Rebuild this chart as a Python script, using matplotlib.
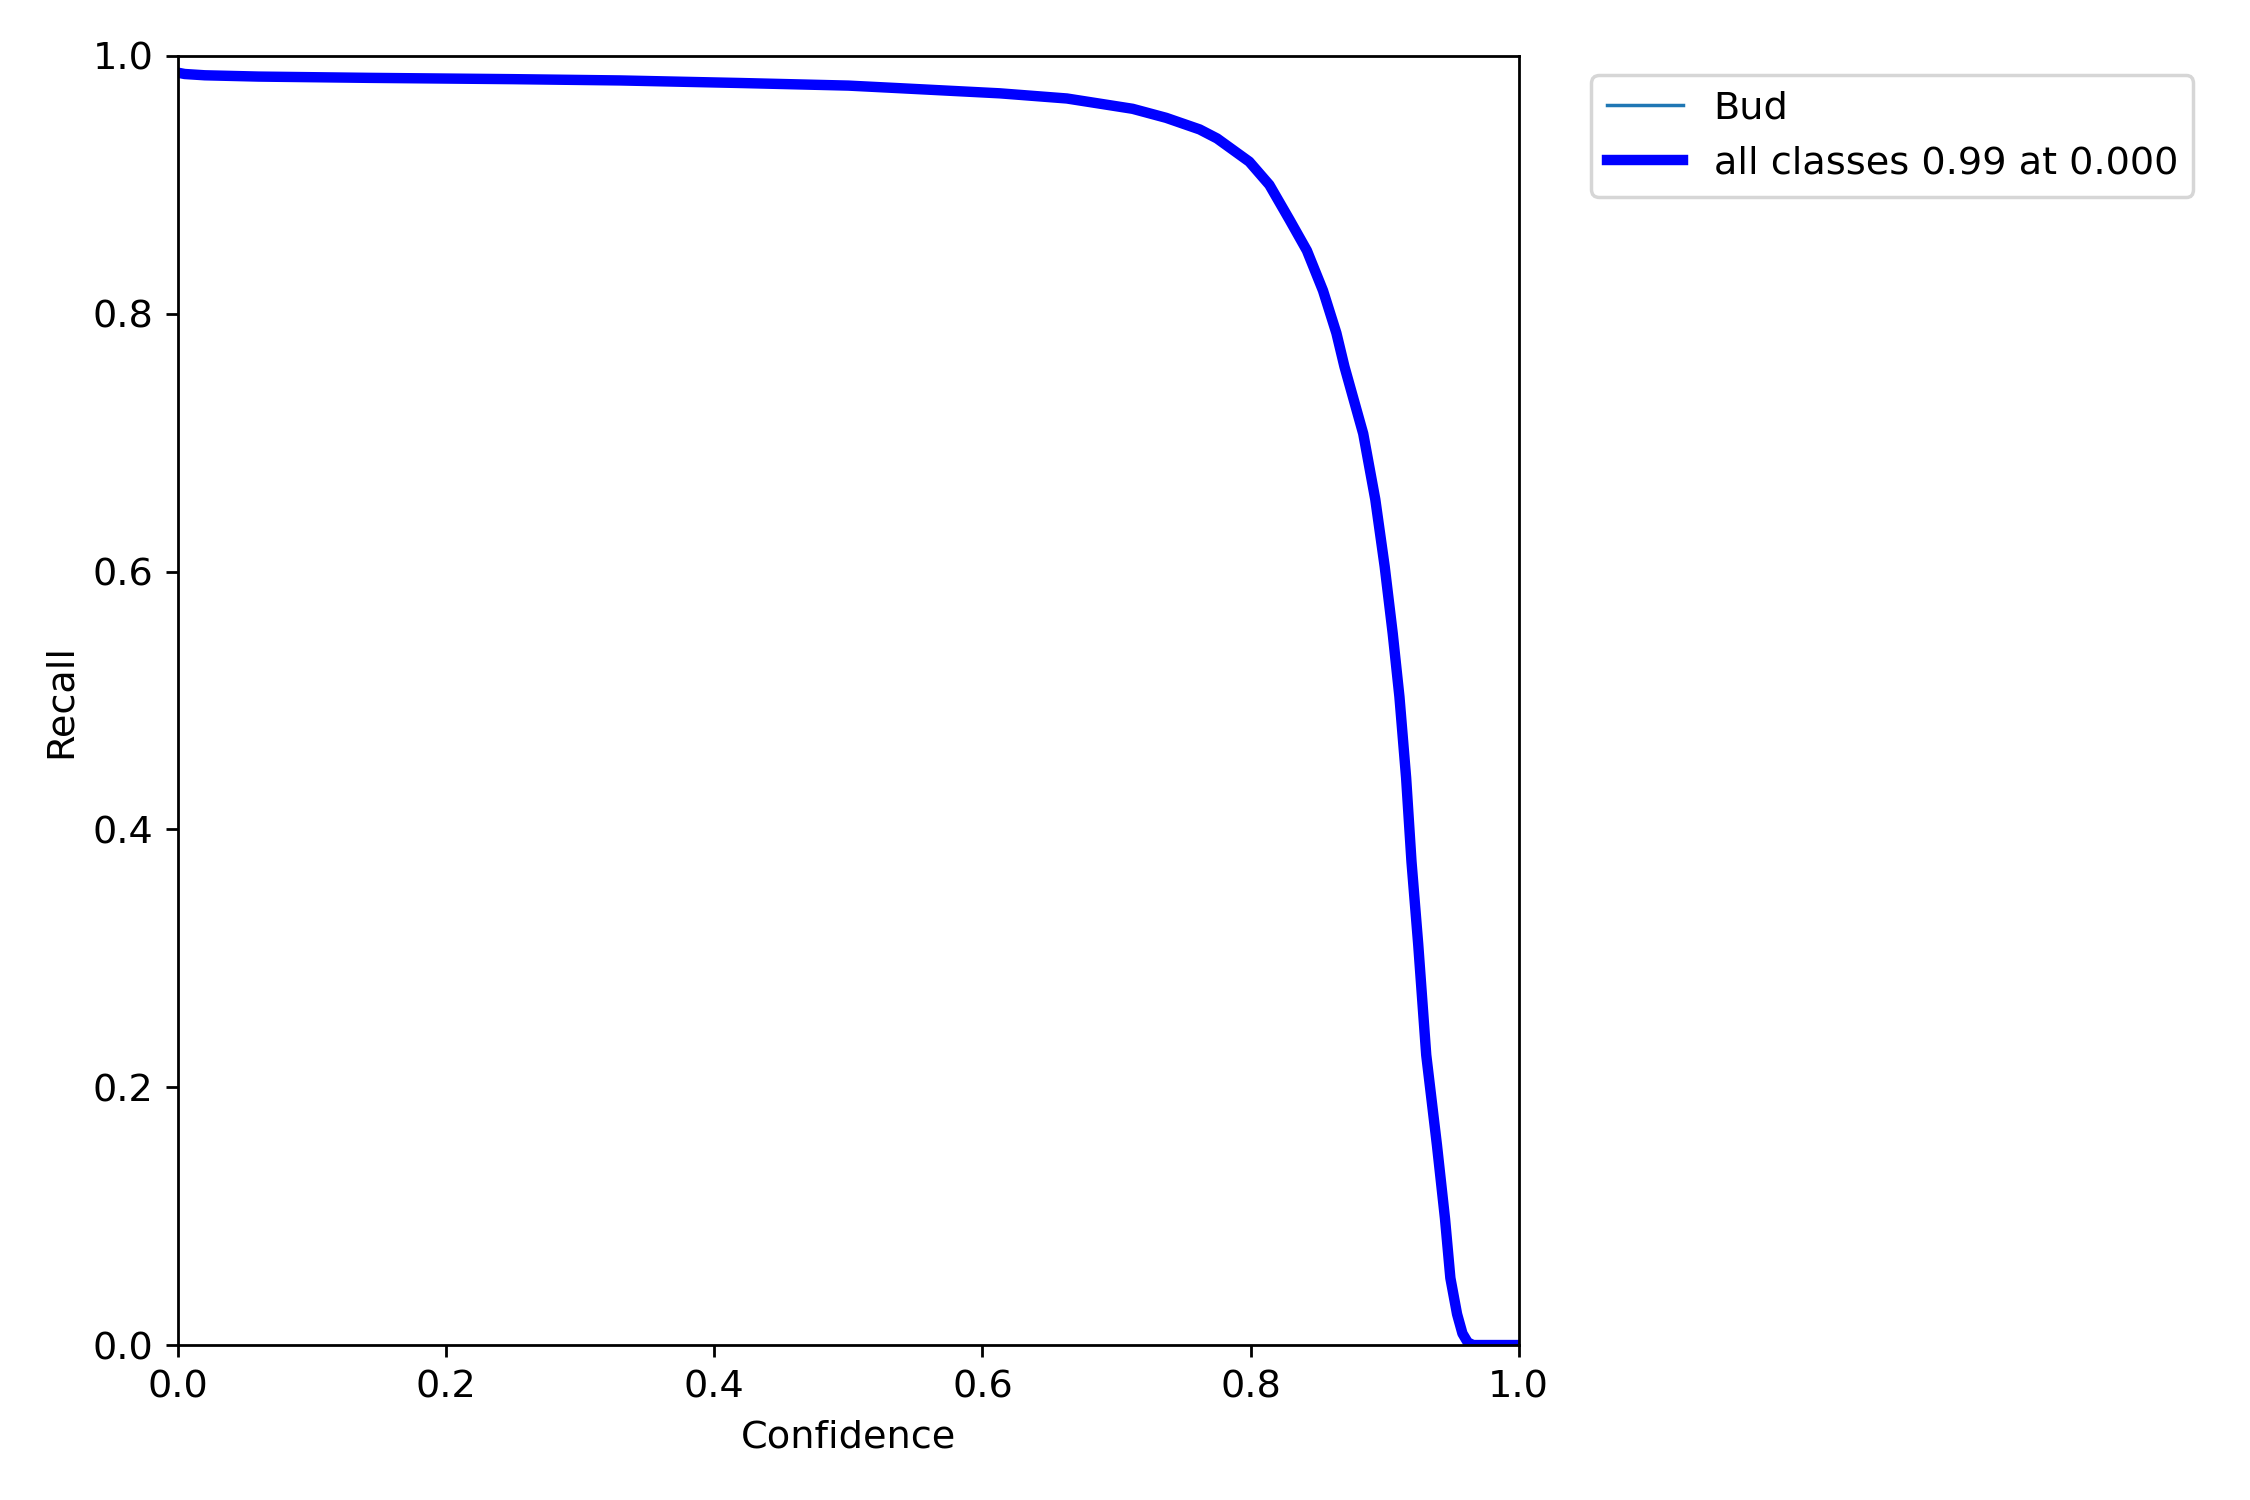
import matplotlib
matplotlib.use("Agg")
import matplotlib.pyplot as plt

plt.rc("font", size=11)

# values
confidence = [0.0, 0.005, 0.02, 0.06, 0.143, 0.25, 0.33, 0.42, 0.5, 0.538,
              0.613, 0.663, 0.712, 0.737, 0.762, 0.775, 0.799, 0.814, 0.829,
              0.842, 0.854, 0.864, 0.870, 0.877, 0.884, 0.893, 0.900, 0.906,
              0.911, 0.916, 0.920, 0.925, 0.931, 0.939, 0.945, 0.949, 0.954,
              0.958, 0.962, 0.966, 1.0]
recall_bud = [0.987, 0.986, 0.985, 0.984, 0.983, 0.982, 0.981, 0.979, 0.977, 0.975,
              0.971, 0.967, 0.959, 0.952, 0.943, 0.936, 0.918, 0.900, 0.873,
              0.849, 0.818, 0.785, 0.759, 0.733, 0.707, 0.656, 0.604, 0.552,
              0.503, 0.440, 0.375, 0.311, 0.225, 0.155, 0.098, 0.052, 0.024,
              0.009, 0.002, 0.0, 0.0]
class_name = "Bud"
best_recall = 0.99
best_conf = 0.000

fig, ax = plt.subplots(1, 1, figsize=(9, 6))
fig.subplots_adjust(left=0.0791, right=0.675, top=0.9627, bottom=0.1033)

ax.plot(confidence, recall_bud, linewidth=1, label=class_name)
ax.plot(confidence, recall_bud, linewidth=3, color="blue",
        label=f"all classes {best_recall:.2f} at {best_conf:.3f}")

ax.set_xlabel("Confidence")
ax.set_ylabel("Recall")
ax.set_xlim(0, 1)
ax.set_ylim(0, 1)
ax.legend(bbox_to_anchor=(1.04, 1), loc="upper left")

fig.savefig("out.png", dpi=250)
